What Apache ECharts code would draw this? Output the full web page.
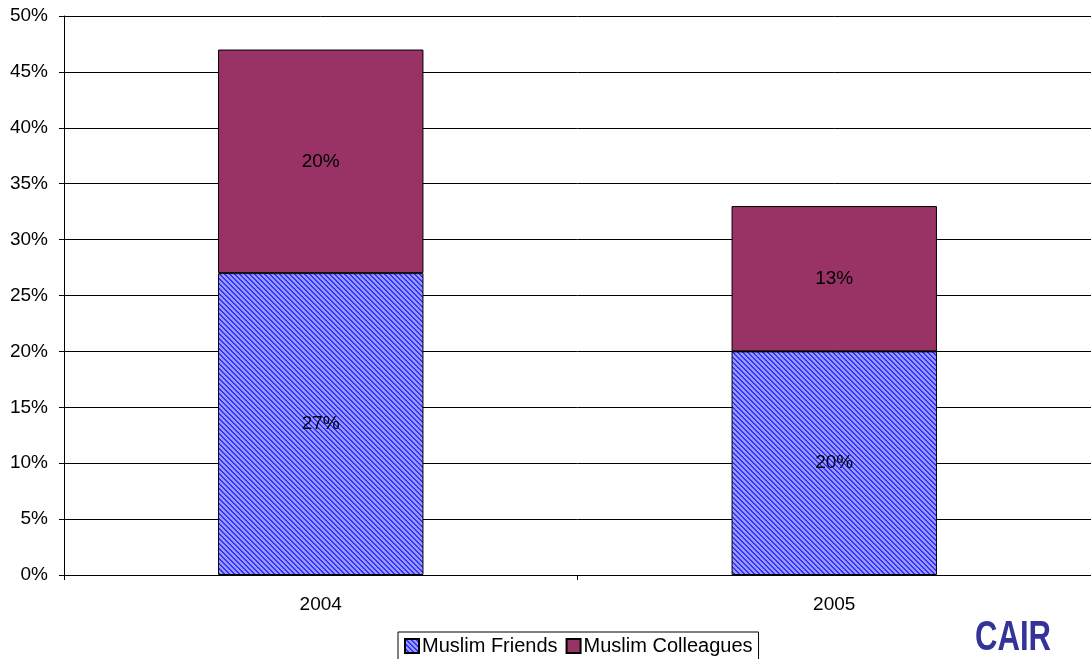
<!DOCTYPE html>
<html>
<head>
<meta charset="utf-8">
<script src="https://cdn.jsdelivr.net/npm/echarts@6/dist/echarts.min.js"></script>
<style>
html, body { margin: 0; padding: 0; background: #fff; }
#chart { width: 1091px; height: 659px; }
</style>
</head>
<body>
<div id="chart"></div>
<script>
// Survey years and stacked shares (percent)
const years = ['2004', '2005'];
const muslimFriends = [27, 20];
const muslimColleagues = [20, 13];
const seriesNames = ['Muslim Friends', 'Muslim Colleagues'];

// Diagonal hatch fill for the "friends" segments
function hatchPattern() {
  const size = 5;
  const c = document.createElement('canvas');
  c.width = size; c.height = size;
  const ctx = c.getContext('2d');
  ctx.fillStyle = '#9999ff';
  ctx.fillRect(0, 0, size, size);
  ctx.fillStyle = '#3333ff';
  for (let y = 0; y < size; y++) {
    ctx.fillRect(y % size, y, 1, 1);
    ctx.fillRect((y + 1) % size, y, 1, 1);
  }
  return { image: c, repeat: 'repeat' };
}

const font = 'Liberation Sans, Arial, sans-serif';
const fs = 19;
const chart = echarts.init(document.getElementById('chart'), null, { renderer: 'canvas' });

const segLabel = {
  show: true,
  position: 'inside',
  color: '#000',
  fontFamily: font,
  fontSize: fs,
  formatter: p => p.value + '%'
};

chart.setOption({
  animation: false,
  backgroundColor: '#fff',
  grid: { left: 64, right: 0, top: 16, bottom: 84, containLabel: false },
  legend: {
    data: seriesNames.map(n => ({ name: n, icon: 'rect' })),
    left: 398,
    top: 632,
    itemWidth: 14,
    itemHeight: 14,
    itemGap: 8,
    padding: [4, 6, 6, 6],
    borderColor: '#000',
    borderWidth: 1,
    textStyle: { color: '#000', fontFamily: font, fontSize: 20, padding: [0, 0, 0, -2] }
  },
  xAxis: {
    type: 'category',
    data: years,
    axisLine: { lineStyle: { color: '#000', width: 1 } },
    axisTick: { show: true, length: 5, lineStyle: { color: '#000' } },
    axisLabel: { color: '#000', fontFamily: font, fontSize: fs, margin: 20 },
    splitLine: { show: false }
  },
  yAxis: {
    type: 'value',
    min: 0,
    max: 50,
    interval: 5,
    axisLine: { show: true, lineStyle: { color: '#000', width: 1 } },
    axisTick: { show: true, length: 5, lineStyle: { color: '#000' } },
    axisLabel: { color: '#000', fontFamily: font, fontSize: fs, margin: 16, formatter: '{value}%' },
    splitLine: { show: true, lineStyle: { color: '#000', width: 1 } }
  },
  series: [
    {
      name: seriesNames[0],
      type: 'bar',
      stack: 'total',
      barWidth: '40%',
      data: muslimFriends,
      itemStyle: { color: hatchPattern(), borderColor: '#000', borderWidth: 1 },
      label: segLabel
    },
    {
      name: seriesNames[1],
      type: 'bar',
      stack: 'total',
      barWidth: '40%',
      data: muslimColleagues,
      itemStyle: { color: '#993366', borderColor: '#000', borderWidth: 1 },
      label: segLabel
    }
  ],
  graphic: [
    {
      type: 'text',
      x: 975,
      y: 638,
      scaleX: 0.74,
      style: {
        text: 'CAIR',
        fill: '#333399',
        fontFamily: 'Liberation Sans, Arial, sans-serif',
        fontWeight: 'bold',
        fontSize: 42,
        align: 'left',
        verticalAlign: 'middle'
      }
    }
  ]
});
</script>
</body>
</html>
